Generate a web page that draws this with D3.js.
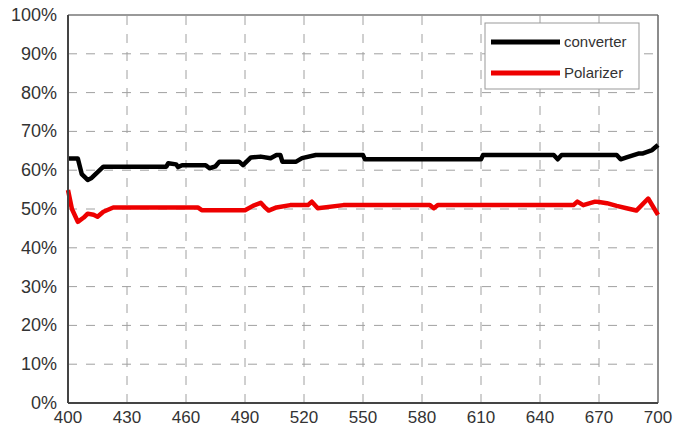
<!DOCTYPE html>
<html>
<head>
<meta charset="utf-8">
<script src="https://cdn.jsdelivr.net/npm/d3@7"></script>
<style>
  body { margin: 0; background: #fff; }
  text { font-family: "Liberation Sans", Arial, sans-serif; }
</style>
</head>
<body>
<div id="chart"></div>
<script>
// wavelength (nm) and efficiency (%)
var converterWl = [400, 405, 407, 410, 412, 418, 450, 451, 455, 456, 458, 470, 472, 475, 477, 487, 489, 493, 498, 503, 506, 508, 509, 516, 519, 526, 550, 551, 610, 611, 647, 649, 651, 679, 681, 684, 690, 692, 697, 700];
var converterVal = [63, 63, 59, 57.5, 58, 60.9, 60.9, 61.8, 61.5, 60.8, 61.3, 61.3, 60.5, 61, 62.2, 62.2, 61.3, 63.3, 63.5, 63.1, 63.9, 63.9, 62.2, 62.2, 63.1, 63.9, 63.9, 62.8, 62.8, 63.9, 63.9, 62.8, 63.9, 63.9, 62.8, 63.3, 64.3, 64.3, 65.2, 66.5];

var polarizerWl = [400, 402, 405, 408, 410, 413, 415, 418, 423, 466, 468, 490, 494, 498, 500, 502, 506, 513, 522, 524, 527, 540, 584, 586, 588, 657, 659, 662, 668, 670, 674, 679, 684, 689, 695, 700];
var polarizerVal = [54.9, 50, 46.7, 47.8, 48.8, 48.5, 48, 49.3, 50.4, 50.4, 49.7, 49.7, 50.8, 51.6, 50.5, 49.6, 50.4, 51, 51, 51.9, 50.2, 51, 51, 50.2, 51, 51, 51.9, 51, 51.9, 51.8, 51.5, 50.8, 50.2, 49.6, 52.7, 48.5];

var xTicks = [400, 430, 460, 490, 520, 550, 580, 610, 640, 670, 700];
var yTicks = [0, 10, 20, 30, 40, 50, 60, 70, 80, 90, 100];
var seriesNames = ["converter", "Polarizer"];
var seriesColors = ["#000000", "#ee0000"];

var width = 681, height = 427;
var margin = { top: 15, right: 23, bottom: 24, left: 68 };

var svg = d3.select("#chart").append("svg")
    .attr("width", width)
    .attr("height", height);

var x = d3.scaleLinear().domain([400, 700]).range([margin.left, width - margin.right]);
var y = d3.scaleLinear().domain([0, 100]).range([height - margin.bottom, margin.top]);

// dashed grid
svg.selectAll(".vgrid")
    .data(xTicks.slice(1, -1))
    .enter().append("line")
    .attr("x1", d => x(d)).attr("x2", d => x(d))
    .attr("y1", y(0)).attr("y2", y(100))
    .style("stroke", "#a0a0a0")
    .style("stroke-width", 1)
    .style("stroke-dasharray", "9,9");

svg.selectAll(".hgrid")
    .data(yTicks.slice(1, -1))
    .enter().append("line")
    .attr("x1", x(400)).attr("x2", x(700))
    .attr("y1", d => y(d)).attr("y2", d => y(d))
    .style("stroke", "#a0a0a0")
    .style("stroke-width", 1)
    .style("stroke-dasharray", "9,9");

// frame
svg.append("line")
    .attr("x1", x(400)).attr("x2", x(700))
    .attr("y1", y(100)).attr("y2", y(100))
    .style("stroke", "#777").style("stroke-width", 1.5);
svg.append("line")
    .attr("x1", x(700)).attr("x2", x(700))
    .attr("y1", y(100)).attr("y2", y(0))
    .style("stroke", "#666").style("stroke-width", 1.5);

// legend box
var legend = svg.append("g");
legend.append("rect")
    .attr("x", 485).attr("y", 23)
    .attr("width", 154).attr("height", 66)
    .style("fill", "#fff")
    .style("stroke", "#999")
    .style("stroke-width", 1);

// data lines
var line = d3.line()
    .x(d => x(d[0]))
    .y(d => y(d[1]));

var seriesData = [
    d3.zip(converterWl, converterVal),
    d3.zip(polarizerWl, polarizerVal)
];

svg.selectAll(".series")
    .data(seriesData)
    .enter().append("path")
    .attr("d", line)
    .style("fill", "none")
    .style("stroke", (d, i) => seriesColors[i])
    .style("stroke-width", 4.5)
    .style("stroke-linejoin", "round");

// axes lines (left & bottom)
svg.append("line")
    .attr("x1", x(400)).attr("x2", x(400))
    .attr("y1", y(100)).attr("y2", y(0))
    .style("stroke", "#444").style("stroke-width", 2);
svg.append("line")
    .attr("x1", x(400)).attr("x2", x(700))
    .attr("y1", y(0)).attr("y2", y(0))
    .style("stroke", "#444").style("stroke-width", 2);

// tick labels
svg.selectAll(".ylab")
    .data(yTicks)
    .enter().append("text")
    .attr("x", 57)
    .attr("y", d => y(d) + 6)
    .attr("text-anchor", "end")
    .style("font-size", "18px")
    .style("fill", "#333")
    .text(d => d + "%");

svg.selectAll(".xlab")
    .data(xTicks)
    .enter().append("text")
    .attr("x", d => x(d))
    .attr("y", 423)
    .attr("text-anchor", "middle")
    .style("font-size", "17px")
    .style("fill", "#333")
    .text(d => d);

// legend entries
seriesNames.forEach(function(name, i) {
    var ly = 42 + i * 31;
    legend.append("line")
        .attr("x1", 491).attr("x2", 560)
        .attr("y1", ly).attr("y2", ly)
        .style("stroke", seriesColors[i])
        .style("stroke-width", 5);
    legend.append("text")
        .attr("x", 564)
        .attr("y", ly + 5)
        .style("font-size", "15px")
        .style("fill", "#333")
        .text(name);
});
</script>
</body>
</html>
